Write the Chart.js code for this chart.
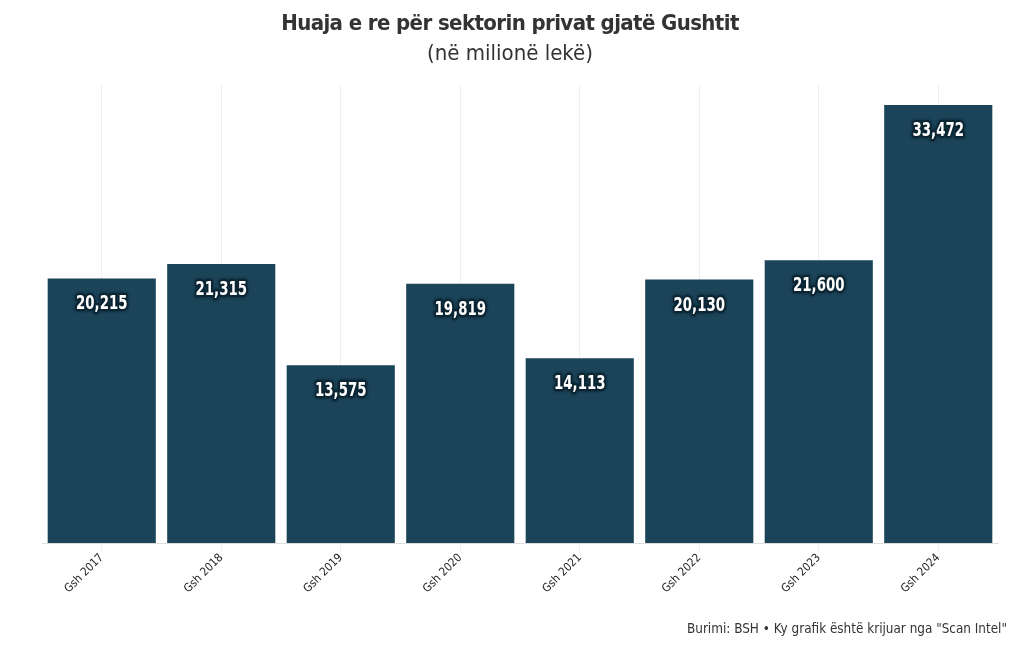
<!DOCTYPE html>
<html>
<head>
<meta charset="utf-8">
<script src="https://cdn.jsdelivr.net/npm/chart.js@4.4.1/dist/chart.umd.min.js"></script>
<style>
  body {
    margin: 0;
    background: #fff;
    font-family: 'DejaVu Sans Condensed', 'Liberation Sans Narrow', sans-serif;
  }
  #wrap {
    position: relative;
    width: 1020px;
    height: 650px;
  }
  #title {
    position: absolute;
    top: 10px;
    left: 0;
    width: 1020px;
    text-align: center;
    font-size: 22px;
    font-weight: bold;
    letter-spacing: -0.6px;
    color: #333;
  }
  #subtitle {
    position: absolute;
    top: 40px;
    left: 0;
    width: 1020px;
    text-align: center;
    font-size: 22px;
    color: #333;
  }
  #footer {
    position: absolute;
    top: 621px;
    right: 13px;
    font-size: 13.4px;
    color: #333;
  }
  canvas {
    position: absolute;
    top: 0;
    left: 0;
  }
</style>
</head>
<body>
<div id="wrap">
  <canvas id="loanChart" width="1020" height="650"></canvas>
  <div id="title">Huaja e re për sektorin privat gjatë Gushtit</div>
  <div id="subtitle">(në milionë lekë)</div>
  <div id="footer">Burimi: BSH • Ky grafik është krijuar nga "Scan Intel"</div>
</div>
<script>
const labels = ['Gsh 2017', 'Gsh 2018', 'Gsh 2019', 'Gsh 2020', 'Gsh 2021', 'Gsh 2022', 'Gsh 2023', 'Gsh 2024']
const loanValues = [20215, 21315, 13575, 19819, 14113, 20130, 21600, 33472]

const barColor = '#1b4459'
const fontFamily = "'DejaVu Sans Condensed', 'Liberation Sans Narrow', sans-serif"

// draws the value inside each bar, near the top (squeezed a bit to look condensed)
const valueLabels = {
  id: 'valueLabels',
  afterDatasetsDraw(chart) {
    const ctx = chart.ctx
    const meta = chart.getDatasetMeta(0)
    meta.data.forEach((bar, i) => {
      const text = loanValues[i].toLocaleString('en-US')
      const y = bar.y + 26
      ctx.save()
      ctx.translate(bar.x, y)
      ctx.scale(0.78, 1)
      ctx.font = 'bold 19px ' + fontFamily
      ctx.textAlign = 'center'
      ctx.textBaseline = 'middle'
      ctx.lineJoin = 'round'
      ctx.shadowColor = '#04141e'
      ctx.shadowBlur = 3
      ctx.strokeStyle = '#0b2533'
      ctx.lineWidth = 4
      ctx.strokeText(text, 0, 0)
      ctx.shadowBlur = 0
      ctx.fillStyle = '#ffffff'
      ctx.fillText(text, 0, 0)
      ctx.restore()
    })
  },
}

const ctx = document.getElementById('loanChart').getContext('2d')

new Chart(ctx, {
  type: 'bar',
  data: {
    labels: labels,
    datasets: [
      {
        data: loanValues,
        backgroundColor: barColor,
        borderWidth: 0,
        barPercentage: 0.905,
        categoryPercentage: 1,
      },
    ],
  },
  options: {
    responsive: false,
    animation: false,
    layout: {
      padding: { top: 85, left: 42, right: 22, bottom: 47 },
    },
    plugins: {
      legend: { display: false },
      tooltip: { enabled: false },
    },
    scales: {
      x: {
        grid: {
          offset: false,
          color: '#eeeeee',
          tickLength: 8,
        },
        border: { color: '#dddddd' },
        ticks: {
          maxRotation: 45,
          minRotation: 45,
          padding: 0,
          color: '#222',
          font: { family: fontFamily, size: 11.5 },
        },
        afterFit(axis) {
          axis.height = 60
        },
      },
      y: {
        display: false,
        min: 0,
        max: 35000,
      },
    },
  },
  plugins: [valueLabels],
})
</script>
</body>
</html>
